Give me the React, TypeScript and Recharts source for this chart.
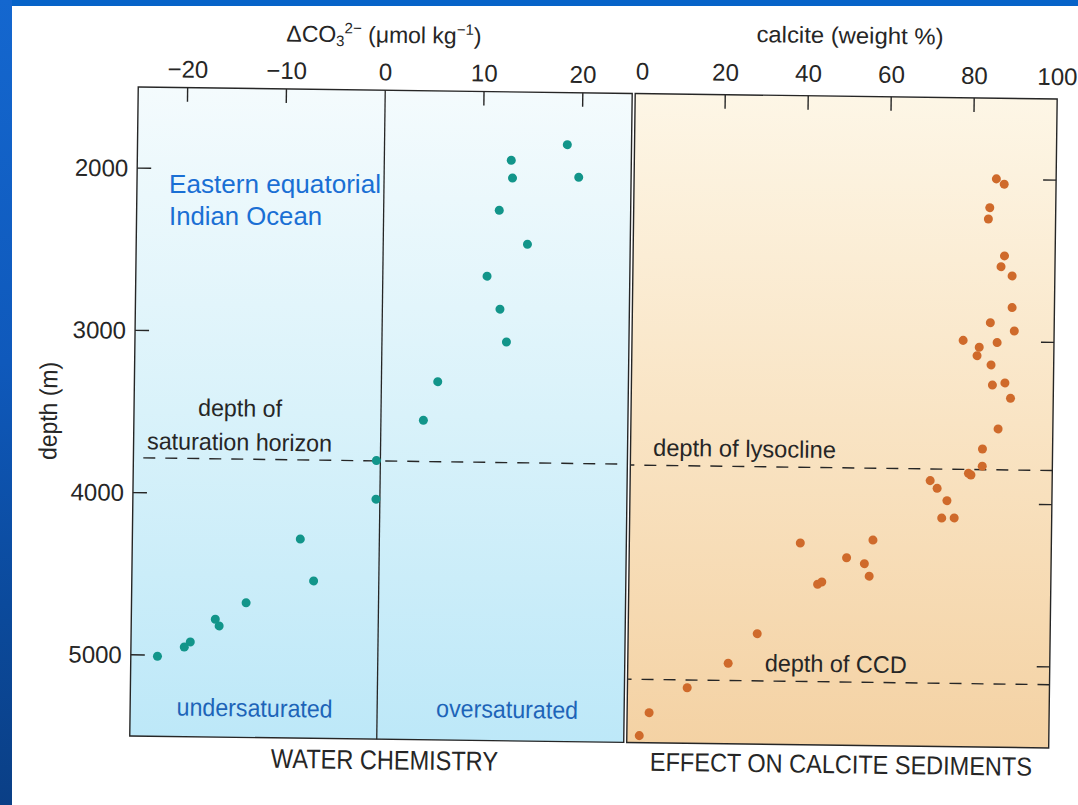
import React from 'react';
import { ScatterChart, Scatter, XAxis, YAxis, ZAxis, ReferenceArea, ReferenceLine } from 'recharts';

// ---- data ----
// Water chemistry panel: ΔCO3 2− (µmol/kg) vs depth (m)
const co3Values = [18.5, 12.85, 13.0, 19.7, 11.7, 14.6, 10.55, 11.9, 12.6, 5.7, 4.3, -0.4, -0.4, -8.0, -6.6, -13.4, -16.5, -16.1, -19.0, -19.6, -22.3];
const co3Depths = [1821, 1922, 2031, 2021, 2231, 2438, 2638, 2840, 3042, 3292, 3531, 3783, 4021, 4273, 4530, 4670, 4774, 4815, 4916, 4948, 5007];

// Sediment panel: calcite (weight %) vs depth (m)
const calciteValues = [85.6, 87.5, 84.1, 83.8, 87.8, 87.0, 89.7, 89.8, 84.6, 90.4, 78.1, 86.3, 82.0, 81.5, 84.9, 85.3, 88.3, 89.7, 86.8, 83.1, 83.1, 79.8, 80.4, 70.6, 72.3, 74.7, 73.5, 76.5, 39.5, 57.0, 50.7, 55.0, 56.2, 43.8, 44.8, 29.4, 22.5, 12.7, 3.6, 1.3];
const calciteDepths = [1997, 2029, 2175, 2245, 2471, 2538, 2594, 2789, 2884, 2933, 2995, 3006, 3036, 3088, 3144, 3268, 3254, 3348, 3538, 3663, 3769, 3814, 3824, 3862, 3909, 3984, 4092, 4090, 4257, 4233, 4344, 4379, 4456, 4510, 4495, 4819, 5004, 5158, 5315, 5457];

const co3Ticks = [-20, -10, 0, 10, 20];
const co3TickMarks = [-20, -10, 10, 20];
const calciteTicks = [0, 20, 40, 60, 80, 100];
const calciteTickMarks = [20, 40, 60, 80];
const depthTicks = [2000, 3000, 4000, 5000];

const depthDomain: [number, number] = [1500, 5500];
const co3Domain: [number, number] = [-25, 25];
const calciteDomain: [number, number] = [-1.7, 100];

const saturationHorizon = 3785;
const lysocline = 3790;
const ccd = 5110;

const co3Data = co3Values.map((v, i) => ({ value: v, depth: co3Depths[i] }));
const calciteData = calciteValues.map((v, i) => ({ value: v, depth: calciteDepths[i] }));

const FIG = "'Liberation Sans', Arial, sans-serif";
const INK = '#262626';
const BLUE_TXT = '#1d64b8';

const fmt = (v: number) => (v < 0 ? `\u2212${Math.abs(v)}` : `${v}`);

const TopTick = (props: any) => {
  const { x, y, payload, marks, gap } = props;
  const v = payload.value;
  return (
    <g>
      <text x={x} y={y} textAnchor="middle" fontSize={24} fontFamily={FIG} fill={INK}>
        {fmt(v)}
      </text>
      {marks.includes(v) && <line x1={x} y1={y + gap} x2={x} y2={y + gap + 14} stroke={INK} strokeWidth={1.4} />}
    </g>
  );
};

const LeftTick = (props: any) => {
  const { x, y, payload } = props;
  return (
    <g>
      <text x={x} y={y} dy={8.5} textAnchor="end" fontSize={24} fontFamily={FIG} fill={INK}>
        {payload.value}
      </text>
      <line x1={x + 9} y1={y} x2={x + 23} y2={y} stroke={INK} strokeWidth={1.4} />
    </g>
  );
};

const RightTick = (props: any) => {
  const { x, y } = props;
  return <line x1={x} y1={y} x2={x - 13} y2={y} stroke={INK} strokeWidth={1.4} />;
};

export default function App() {
  return (
    <div style={{ position: 'absolute', left: 0, top: 0, width: 1078, height: 805, background: '#ffffff', overflow: 'hidden' }}>
      <div
        style={{
          position: 'absolute',
          left: 0,
          top: 0,
          width: 1078,
          height: 805,
          transform: 'rotate(0.75deg)',
          transformOrigin: '595px 415px',
        }}
      >
        {/* Water chemistry panel */}
        <div style={{ position: 'absolute', left: 0, top: 0 }}>
          <ScatterChart width={640} height={805} margin={{ top: 63, right: 12, bottom: 63, left: 74 }}>
            <XAxis
              xAxisId="co3"
              type="number"
              dataKey="value"
              orientation="top"
              domain={co3Domain}
              ticks={co3Ticks}
              interval={0}
              allowDataOverflow
              height={30}
              axisLine={false}
              tickLine={false}
              tickSize={0}
              tickMargin={10}
              tick={(p: any) => <TopTick {...p} marks={co3TickMarks} gap={10} />}
            />
            <YAxis
              yAxisId="d"
              type="number"
              dataKey="depth"
              reversed
              domain={depthDomain}
              ticks={depthTicks}
              interval={0}
              allowDataOverflow
              width={60}
              axisLine={false}
              tickLine={false}
              tickSize={0}
              tickMargin={9}
              tick={(p: any) => <LeftTick {...p} />}
            />
            <ZAxis range={[72, 72]} />
            <ReferenceArea
              xAxisId="co3"
              yAxisId="d"
              x1={co3Domain[0]}
              x2={co3Domain[1]}
              y1={depthDomain[0]}
              y2={depthDomain[1]}
              fill="url(#gradWater)"
              fillOpacity={1}
              stroke={INK}
              strokeWidth={1.4}
              ifOverflow="visible"
            />
            <ReferenceLine xAxisId="co3" yAxisId="d" x={0} stroke={INK} strokeWidth={1.3} ifOverflow="visible" />
            <ReferenceLine
              xAxisId="co3"
              yAxisId="d"
              segment={[
                { x: -24, y: saturationHorizon },
                { x: 25, y: saturationHorizon },
              ]}
              stroke={INK}
              strokeWidth={1.4}
              strokeDasharray="12 10"
              ifOverflow="visible"
            />
            <Scatter xAxisId="co3" yAxisId="d" data={co3Data} fill="#12958a" isAnimationActive={false} />
          </ScatterChart>
        </div>

        {/* Calcite sediments panel */}
        <div style={{ position: 'absolute', left: 600, top: 0 }}>
          <ScatterChart width={478} height={805} margin={{ top: 63, right: 5, bottom: 63, left: 31 }}>
            <XAxis
              xAxisId="cal"
              type="number"
              dataKey="value"
              orientation="top"
              domain={calciteDomain}
              ticks={calciteTicks}
              interval={0}
              allowDataOverflow
              height={30}
              axisLine={false}
              tickLine={false}
              tickSize={0}
              tickMargin={14}
              tick={(p: any) => <TopTick {...p} marks={calciteTickMarks} gap={14} />}
            />
            <YAxis
              yAxisId="d"
              type="number"
              dataKey="depth"
              orientation="right"
              reversed
              domain={depthDomain}
              ticks={depthTicks}
              interval={0}
              allowDataOverflow
              width={20}
              axisLine={false}
              tickLine={false}
              tickSize={0}
              tickMargin={0}
              tick={(p: any) => <RightTick {...p} />}
            />
            <ZAxis range={[72, 72]} />
            <ReferenceArea
              xAxisId="cal"
              yAxisId="d"
              x1={calciteDomain[0]}
              x2={calciteDomain[1]}
              y1={depthDomain[0]}
              y2={depthDomain[1]}
              fill="url(#gradSed)"
              fillOpacity={1}
              stroke={INK}
              strokeWidth={1.4}
              ifOverflow="visible"
            />
            <ReferenceLine xAxisId="cal" yAxisId="d" y={lysocline} stroke={INK} strokeWidth={1.4} strokeDasharray="12 10" ifOverflow="visible" />
            <ReferenceLine xAxisId="cal" yAxisId="d" y={ccd} stroke={INK} strokeWidth={1.4} strokeDasharray="12 10" ifOverflow="visible" />
            <Scatter xAxisId="cal" yAxisId="d" data={calciteData} fill="#cf6a2b" isAnimationActive={false} />
          </ScatterChart>
        </div>

        {/* figure annotations */}
        <svg width={1078} height={805} style={{ position: 'absolute', left: 0, top: 0 }}>
          <defs>
            <linearGradient id="gradWater" x1="0" y1="0" x2="0" y2="1">
              <stop offset="0" stopColor="#f4fbfd" />
              <stop offset="0.5" stopColor="#d9f2fa" />
              <stop offset="1" stopColor="#bde8f8" />
            </linearGradient>
            <linearGradient id="gradSed" x1="0" y1="0" x2="0" y2="1">
              <stop offset="0" stopColor="#fdf6e6" />
              <stop offset="0.5" stopColor="#f9e4c4" />
              <stop offset="1" stopColor="#f4d2a4" />
            </linearGradient>
          </defs>
          <text x={379} y={45.5} textAnchor="middle" fontSize={23} fontFamily={FIG} fill={INK}>
            ΔCO
            <tspan fontSize={15} dy={4}>3</tspan>
            <tspan fontSize={15} dy={-13}>2−</tspan>
            <tspan dy={9}> (μmol kg</tspan>
            <tspan fontSize={15} dy={-9}>−1</tspan>
            <tspan dy={9}>)</tspan>
          </text>
          <text x={845} y={40} textAnchor="middle" fontSize={23} fontFamily={FIG} fill={INK} textLength={187} lengthAdjust="spacingAndGlyphs">
            calcite (weight %)
          </text>
          <text transform="translate(57,418) rotate(-90)" textAnchor="middle" fontSize={25} fontFamily={FIG} fill={INK} textLength={98} lengthAdjust="spacingAndGlyphs">
            depth (m)
          </text>
          <text x={240} y={421} textAnchor="middle" fontSize={24} fontFamily={FIG} fill={INK} textLength={84} lengthAdjust="spacingAndGlyphs">
            depth of
          </text>
          <text x={240} y={455} textAnchor="middle" fontSize={24} fontFamily={FIG} fill={INK} textLength={185} lengthAdjust="spacingAndGlyphs">
            saturation horizon
          </text>
          <text x={745} y={455} textAnchor="middle" fontSize={24} fontFamily={FIG} fill={INK} textLength={183} lengthAdjust="spacingAndGlyphs">
            depth of lysocline
          </text>
          <text x={839} y={669} textAnchor="middle" fontSize={24} fontFamily={FIG} fill={INK} textLength={142} lengthAdjust="spacingAndGlyphs">
            depth of CCD
          </text>
          <text x={258.5} y={721} textAnchor="middle" fontSize={25} fontFamily={FIG} fill={BLUE_TXT} textLength={156} lengthAdjust="spacingAndGlyphs">
            undersaturated
          </text>
          <text x={511} y={719} textAnchor="middle" fontSize={25} fontFamily={FIG} fill={BLUE_TXT} textLength={142} lengthAdjust="spacingAndGlyphs">
            oversaturated
          </text>
          <text x={389} y={772} textAnchor="middle" fontSize={27} fontFamily={FIG} fill={INK} textLength={227} lengthAdjust="spacingAndGlyphs">
            WATER CHEMISTRY
          </text>
          <text x={845.5} y={770} textAnchor="middle" fontSize={26} fontFamily={FIG} fill={INK} textLength={382} lengthAdjust="spacingAndGlyphs">
            EFFECT ON CALCITE SEDIMENTS
          </text>
        </svg>
      </div>

      {/* slide annotation (not part of the scanned figure) */}
      <svg width={1078} height={805} style={{ position: 'absolute', left: 0, top: 0 }}>
        <text x={169} y={193} fontSize={25.5} fontFamily={FIG} fill="#1a6fd4" textLength={212} lengthAdjust="spacingAndGlyphs">
          Eastern equatorial
        </text>
        <text x={169} y={225} fontSize={25.5} fontFamily={FIG} fill="#1a6fd4" textLength={153} lengthAdjust="spacingAndGlyphs">
          Indian Ocean
        </text>
      </svg>

      {/* slide frame */}
      <div style={{ position: 'absolute', left: 0, top: 0, width: 1078, height: 6, background: '#0663c8' }} />
      <div
        style={{
          position: 'absolute',
          left: 0,
          top: 0,
          width: 12,
          height: 805,
          background: 'linear-gradient(180deg, #1467cf 0%, #0f59bb 45%, #0b4a9c 75%, #0a3f86 100%)',
        }}
      />
    </div>
  );
}
